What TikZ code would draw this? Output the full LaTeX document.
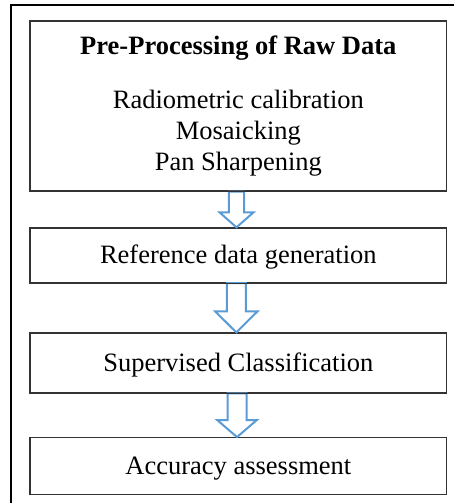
\documentclass[tikz,border=0pt]{standalone}
\usepackage{fontspec}
\setmainfont{Liberation Serif}
\usetikzlibrary{calc}
\definecolor{arrowblue}{HTML}{5B9BD5}
\definecolor{boxline}{HTML}{333333}
\tikzset{
  stepbox/.style={draw=boxline, line width=1.3pt, rectangle, minimum width=416.7pt,
    inner sep=0pt, font=\fontsize{26.5}{31}\selectfont, text height=21pt, text depth=4.5pt},
  bigbox/.style={draw=boxline, line width=1.3pt, rectangle, minimum width=416.7pt,
    minimum height=170pt, inner sep=0pt, align=center, font=\fontsize{26.5}{31}\selectfont},
  blockarrow/.style={draw=arrowblue, line width=2pt, fill=white, line join=miter},
  frameline/.style={draw=black, line width=2.3pt}
}
\newcommand{\blkarrow}[5]{%
  \draw[blockarrow] ($(#1)+(-#3,0)$) -- ($(#2)+(-#3,-#5)$) -- ($(#2)+(-#4,-#5)$) -- (#2)
    -- ($(#2)+(#4,-#5)$) -- ($(#2)+(#3,-#5)$) -- ($(#1)+(#3,0)$) -- cycle;}
\begin{document}
\begin{tikzpicture}[x=1pt, y=-1pt]
\useasboundingbox (0,0) rectangle (454,503);
\clip (0,0) rectangle (454,503);
% outer frame (extends beyond the visible area)
\draw[frameline] (10.8,5) rectangle (480,530);
% boxes
\node[bigbox] (b1) at (238.35,106) {\textbf{Pre-Processing of Raw Data}\\[22.5pt]Radiometric calibration\\Mosaicking\\Pan Sharpening};
\node[stepbox, minimum height=54.5pt] (b2) at (238.35,255.25) {Reference data generation};
\node[stepbox, minimum height=59.7pt] (b3) at (238.35,362.85) {Supervised Classification};
\node[stepbox, minimum height=57pt] (b4) at (238.35,466.2) {Accuracy assessment};
% arrows
\coordinate (a1s) at (b1.south -| 236.5,0);
\coordinate (a1e) at (b2.north -| 236.5,0);
\coordinate (a2s) at (b2.south -| 236.3,0);
\coordinate (a2e) at (b3.north -| 236.3,0);
\coordinate (a3s) at (b3.south -| 237,0);
\coordinate (a3e) at (b4.north -| 237,0);
\blkarrow{a1s}{a1e}{7.7}{17}{15}
\blkarrow{a2s}{a2e}{9.5}{21.2}{21}
\blkarrow{a3s}{a3e}{9.5}{19.8}{17}
% redraw box borders on top of the arrows
\draw[boxline, line width=1.3pt] (b1.south west) -- (b1.south east);
\draw[boxline, line width=1.3pt] (b2.south west) -- (b2.south east);
\draw[boxline, line width=1.3pt] (b3.south west) -- (b3.south east);
\end{tikzpicture}
\end{document}
